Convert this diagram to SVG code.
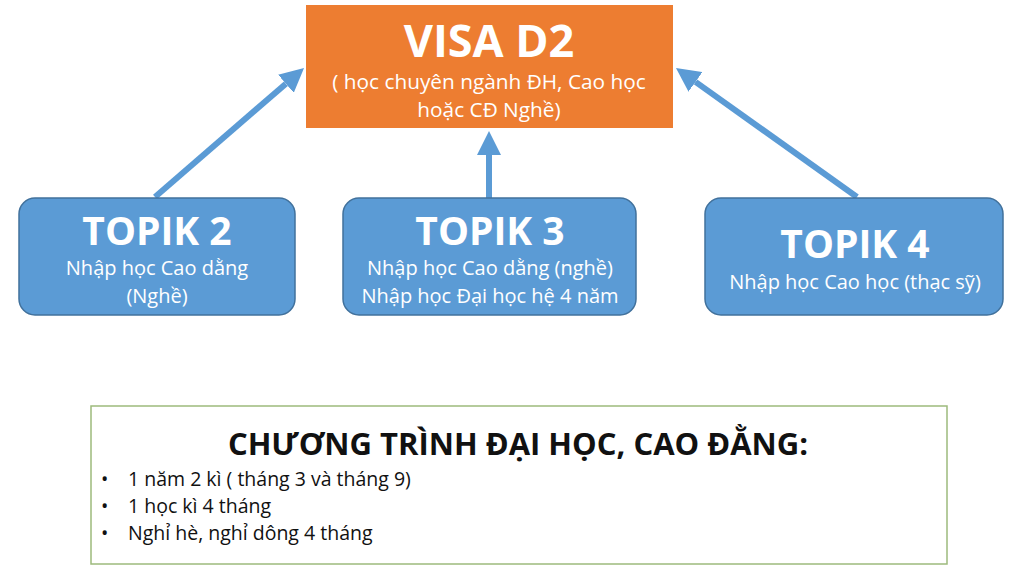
<svg xmlns="http://www.w3.org/2000/svg" width="1024" height="575" viewBox="0 0 1024 575">
<style>
.t{font-family:"Open Sans","Noto Sans","DejaVu Sans",sans-serif;}
.w{fill:#ffffff;text-anchor:middle;}
.h{font-weight:bold;font-size:39px;}
.s{font-size:20px;}
.topik{fill:#5B9BD5;stroke:#41719C;stroke-width:1.5;}
.conn{fill:none;stroke:#5B9BD5;stroke-width:6;}
.b{font-size:19.5px;fill:#111111;}
</style>
<defs>
<marker id="ah" markerUnits="userSpaceOnUse" markerWidth="24" markerHeight="24" viewBox="0 0 24 24" refX="0" refY="12" orient="auto">
<path d="M0,0 L24,12 L0,24 z" fill="#5B9BD5"/>
</marker>
</defs>
<rect width="1024" height="575" fill="#ffffff"/>
<g id="connectors">
<path class="conn" d="M155,197 L285.9,83.7" marker-end="url(#ah)"/>
<path class="conn" d="M489,198 L489,155" marker-end="url(#ah)"/>
<path class="conn" d="M857,197 L695.5,81.9" marker-end="url(#ah)"/>
</g>
<g id="visa">
<rect x="306" y="5" width="367" height="123" fill="#ED7D31"/>
<text class="t w" x="489" y="57" font-weight="bold" font-size="45">VISA D2</text>
<text class="t w" x="489" y="89" font-size="20.8">( học chuyên ngành ĐH, Cao học</text>
<text class="t w" x="489" y="117" font-size="20.8">hoặc CĐ Nghề)</text>
</g>
<g id="topik2">
<rect class="topik" x="19" y="198" width="276" height="117" rx="16"/>
<text class="t w h" x="157" y="245">TOPIK 2</text>
<text class="t w s" x="157" y="275">Nhập học Cao dằng</text>
<text class="t w s" x="157" y="303">(Nghề)</text>
</g>
<g id="topik3">
<rect class="topik" x="343" y="198" width="293" height="117" rx="16"/>
<text class="t w h" x="490" y="245">TOPIK 3</text>
<text class="t w s" x="490" y="275">Nhập học Cao dằng (nghề)</text>
<text class="t w s" x="490" y="303">Nhập học Đại học hệ 4 năm</text>
</g>
<g id="topik4">
<rect class="topik" x="705" y="198" width="298" height="117" rx="16"/>
<text class="t w h" x="855" y="258">TOPIK 4</text>
<text class="t w s" x="855" y="289">Nhập học Cao học (thạc sỹ)</text>
</g>
<g id="program">
<rect x="91" y="406" width="856" height="158" fill="#ffffff" stroke="#9DBA7C" stroke-width="1.5"/>
<text class="t" x="518" y="455" text-anchor="middle" font-weight="bold" font-size="31" fill="#111111">CHƯƠNG TRÌNH ĐẠI HỌC, CAO ĐẰNG:</text>
<text class="t b" x="101" y="486">•</text>
<text class="t b" x="128" y="486">1 năm 2 kì ( tháng 3 và tháng 9)</text>
<text class="t b" x="101" y="513">•</text>
<text class="t b" x="128" y="513">1 học kì 4 tháng</text>
<text class="t b" x="101" y="540">•</text>
<text class="t b" x="128" y="540">Nghỉ hè, nghỉ dông 4 tháng</text>
</g>
</svg>
